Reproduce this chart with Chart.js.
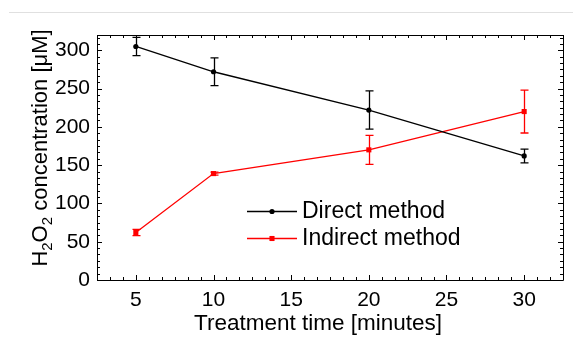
<!DOCTYPE html>
<html>
<head>
<meta charset="utf-8">
<script src="https://cdn.jsdelivr.net/npm/chart.js@4.4.1/dist/chart.umd.min.js"></script>
<style>
  html, body { margin: 0; padding: 0; background: #fff; }
  #wrap { position: relative; width: 573px; height: 342px; }
  #rule { position: absolute; left: 9px; right: 0; top: 12px; border-top: 1px solid #e0e0e0; }
  canvas { position: absolute; left: 0; top: 0; }
</style>
</head>
<body>
<div id="wrap">
  <div id="rule"></div>
  <canvas id="chart" width="573" height="342"></canvas>
</div>
<script>
// values
const times = [5, 10, 20, 30];
const direct = [305, 272, 222, 162];
const directErr = [12, 18, 25, 9];
const indirect = [62, 139, 170, 220];
const indirectErr = [4, 2, 19, 28];
const xTicks = [5, 10, 15, 20, 25, 30];
const yTicks = [0, 50, 100, 150, 200, 250, 300];
const xTitle = 'Treatment time [minutes]';
// y title pieces: [text, isSubscript]
const yTitle = [['H', false], ['2', true], ['O', false], ['2', true], [' concentration [μM]', false]];

const FONT = 'Liberation Sans, Arial, sans-serif';

function toPoints(xs, ys) {
  let pts = [];
  for (let i = 0; i < xs.length; i++) {
    pts.push({ x: xs[i], y: ys[i] });
  }
  return pts;
}

// frame + inward ticks on all four sides (major and 5 minor between)
const framePlugin = {
  id: 'frame',
  afterDatasetsDraw(chart) {
    const { ctx, chartArea: a } = chart;
    const xs = chart.scales.x;
    const ys = chart.scales.y;
    ctx.save();
    ctx.strokeStyle = '#000';
    ctx.lineWidth = 1;
    ctx.beginPath();
    ctx.rect(Math.round(a.left) + 0.5, Math.round(a.top) + 0.5,
      Math.round(a.right - a.left), Math.round(a.bottom - a.top));
    ctx.stroke();

    ctx.beginPath();
    const xStep = (xTicks[1] - xTicks[0]) / 6;
    for (let v = xTicks[0] - 6 * xStep; v <= xs.max + 1e-6; v += xStep) {
      if (v < xs.min - 1e-6) continue;
      const k = Math.round((v - xTicks[0]) / xStep);
      const len = k % 6 === 0 ? 5 : 3;
      const px = Math.round(xs.getPixelForValue(v)) + 0.5;
      ctx.moveTo(px, a.bottom);
      ctx.lineTo(px, a.bottom - len);
      ctx.moveTo(px, a.top);
      ctx.lineTo(px, a.top + len);
    }
    const yStep = (yTicks[1] - yTicks[0]) / 6;
    for (let v = yTicks[0]; v <= ys.max + 1e-6; v += yStep) {
      const k = Math.round((v - yTicks[0]) / yStep);
      const len = k % 6 === 0 ? 5 : 3;
      const py = Math.round(ys.getPixelForValue(v)) + 0.5;
      ctx.moveTo(a.left, py);
      ctx.lineTo(a.left + len, py);
      ctx.moveTo(a.right, py);
      ctx.lineTo(a.right - len, py);
    }
    ctx.stroke();
    ctx.restore();
  }
};

// vertical error bars with caps
const errorBarPlugin = {
  id: 'errorBars',
  beforeDatasetsDraw(chart) {
    const ctx = chart.ctx;
    const ys = chart.scales.y;
    chart.data.datasets.forEach((ds, i) => {
      const meta = chart.getDatasetMeta(i);
      ctx.save();
      ctx.strokeStyle = ds.borderColor;
      ctx.lineWidth = 1.3;
      ctx.beginPath();
      meta.data.forEach((pt, j) => {
        const v = ds.data[j].y;
        const e = ds.errors[j];
        const top = ys.getPixelForValue(v + e);
        const bot = ys.getPixelForValue(v - e);
        const x = Math.round(pt.x) + 0.5;
        ctx.moveTo(x, top);
        ctx.lineTo(x, bot);
        ctx.moveTo(x - 4, top);
        ctx.lineTo(x + 4, top);
        ctx.moveTo(x - 4, bot);
        ctx.lineTo(x + 4, bot);
      });
      ctx.stroke();
      ctx.restore();
    });
  }
};

// legend inside the plot: line sample + marker + label
const legendPlugin = {
  id: 'insideLegend',
  afterDraw(chart) {
    const ctx = chart.ctx;
    const x0 = 247, x1 = 297, tx = 302;
    const rows = [211, 238];
    ctx.save();
    chart.data.datasets.forEach((ds, i) => {
      const y = rows[i];
      ctx.strokeStyle = ds.borderColor;
      ctx.lineWidth = 1.3;
      ctx.beginPath();
      ctx.moveTo(x0, y + 0.5);
      ctx.lineTo(x1, y + 0.5);
      ctx.stroke();
      ctx.fillStyle = ds.backgroundColor;
      Chart.helpers.drawPoint(ctx, {
        pointStyle: ds.pointStyle,
        radius: ds.pointRadius,
        borderWidth: 0,
        rotation: 0
      }, (x0 + x1) / 2, y + 0.5);
      ctx.fillStyle = '#000';
      ctx.font = '23px ' + FONT;
      ctx.textBaseline = 'middle';
      ctx.textAlign = 'left';
      ctx.fillText(ds.label, tx, y + 1);
    });
    ctx.restore();
  }
};

// axis titles, y title with real subscripts
const titlesPlugin = {
  id: 'axisTitles',
  afterDraw(chart) {
    const ctx = chart.ctx;
    ctx.save();
    ctx.fillStyle = '#000';
    ctx.textBaseline = 'alphabetic';
    ctx.textAlign = 'center';
    ctx.font = '22.5px ' + FONT;
    ctx.fillText(xTitle, 318, 330);

    // y title, rotated, centred at y = 148
    const big = '22px ' + FONT;
    const small = '15px ' + FONT;
    let total = 0;
    yTitle.forEach(([t, sub]) => {
      ctx.font = sub ? small : big;
      total += ctx.measureText(t).width;
    });
    ctx.translate(47, 148);
    ctx.rotate(-Math.PI / 2);
    ctx.textAlign = 'left';
    let x = -total / 2;
    yTitle.forEach(([t, sub]) => {
      ctx.font = sub ? small : big;
      ctx.fillText(t, x, sub ? 5 : 0);
      x += ctx.measureText(t).width;
    });
    ctx.restore();
  }
};

const ctx = document.getElementById('chart');

const chart = new Chart(ctx, {
  type: 'line',
  data: {
    datasets: [
      {
        label: 'Direct method',
        data: toPoints(times, direct),
        errors: directErr,
        borderColor: '#000000',
        backgroundColor: '#000000',
        borderWidth: 1.3,
        pointStyle: 'circle',
        pointRadius: 2.6,
        pointBorderWidth: 0,
        tension: 0
      },
      {
        label: 'Indirect method',
        data: toPoints(times, indirect),
        errors: indirectErr,
        borderColor: '#ff0000',
        backgroundColor: '#ff0000',
        borderWidth: 1.3,
        pointStyle: 'rect',
        pointRadius: 3.6,
        pointBorderWidth: 0,
        tension: 0
      }
    ]
  },
  options: {
    responsive: false,
    animation: false,
    layout: {
      padding: { left: 0, top: 35, right: 10, bottom: 0 }
    },
    scales: {
      x: {
        type: 'linear',
        min: 2.5,
        max: 32.5,
        afterBuildTicks: (scale) => {
          scale.ticks = xTicks.map(v => ({ value: v }));
        },
        afterFit: (scale) => {
          scale.height = 62;
        },
        grid: { display: false, drawTicks: false },
        border: { display: false },
        ticks: {
          color: '#000',
          padding: 8,
          maxRotation: 0,
          font: { family: FONT, size: 21 }
        },
        title: { display: false }
      },
      y: {
        type: 'linear',
        min: 0,
        max: 320,
        afterBuildTicks: (scale) => {
          scale.ticks = yTicks.map(v => ({ value: v }));
        },
        afterFit: (scale) => {
          scale.width = 97;
        },
        grid: { display: false, drawTicks: false },
        border: { display: false },
        ticks: {
          color: '#000',
          padding: 7,
          font: { family: FONT, size: 21 }
        },
        title: { display: false }
      }
    },
    plugins: {
      legend: { display: false },
      tooltip: { enabled: false }
    }
  },
  plugins: [errorBarPlugin, framePlugin, legendPlugin, titlesPlugin]
});
</script>
</body>
</html>
